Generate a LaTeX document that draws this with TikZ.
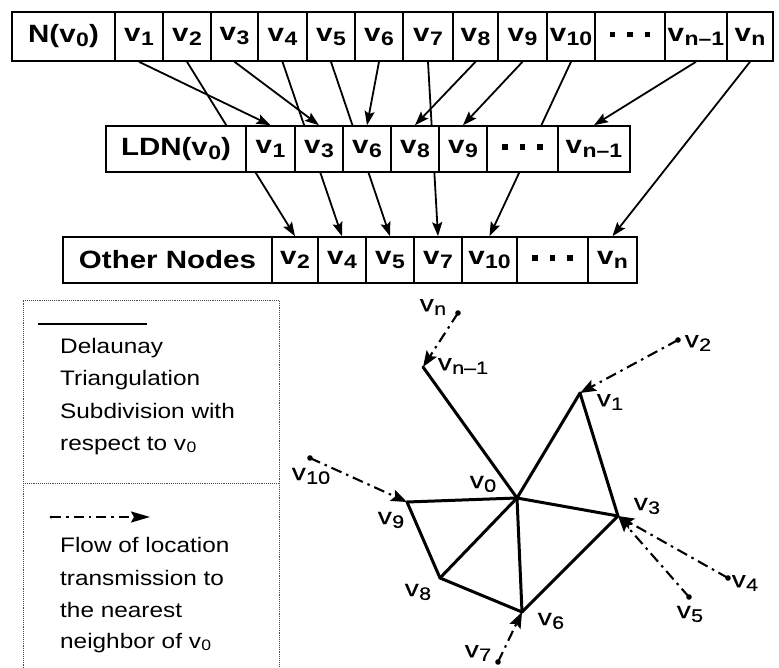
\documentclass[tikz,border=0pt]{standalone}
\usepackage{fontspec}
\setmainfont{Liberation Sans}
\newfontfamily\tabf[FakeStretch=1.18]{Liberation Sans}
\newfontfamily\grf[FakeStretch=1.2,FakeBold=0.6]{Liberation Sans}
\newfontfamily\legf[FakeStretch=1.16]{Liberation Sans}
\usetikzlibrary{arrows.meta}
\newcommand\nd[1]{v\kern0.02em\raisebox{-0.16em}{\scalebox{0.78}{#1}}}
\newcommand\ndl[1]{v\kern0.02em\raisebox{-0.14em}{\scalebox{0.72}{#1}}}
\newcommand\sqdots{\raisebox{4pt}{\rule{5.5pt}{5.5pt}\hspace{12pt}\rule{5.5pt}{5.5pt}\hspace{12pt}\rule{5.5pt}{5.5pt}}}
\begin{document}
\begin{tikzpicture}[x=1pt,y=-1pt,
  cell/.style={draw, line width=1.6pt, fill=white, inner sep=0pt,
    font=\tabf\bfseries\fontsize{25}{30}\selectfont},
  rowa/.style={cell, minimum height=49pt},
  rowb/.style={cell, minimum height=46pt},
  conn/.style={line width=1.8pt, -{Stealth[length=14pt,width=10pt,inset=2.5pt]}},
  edge/.style={line width=3pt, line cap=round, line join=round},
  flow/.style={line width=2.1pt, dash pattern=on 11pt off 5pt on 2.5pt off 5pt,
    -{Stealth[length=16pt,width=12pt,inset=3pt]}},
  glab/.style={inner sep=0pt, font=\grf\fontsize{23}{27}\selectfont},
  legtxt/.style={anchor=base west, inner sep=0pt, font=\legf\fontsize{21}{25}\selectfont},
  legbox/.style={line width=0.9pt, densely dotted, black!70}
]
\useasboundingbox (0,0) rectangle (779,668);

% ---- top row ----
\node[rowa, minimum width=103pt] (t0) at (63.5,36.5) {N(\nd{0})};
\node[rowa, minimum width=48pt] (t1) at (139,36.5) {\nd{1}};
\node[rowa, minimum width=48pt] (t2) at (187,36.5) {\nd{2}};
\node[rowa, minimum width=47pt] (t3) at (234.5,36.5) {\nd{3}};
\node[rowa, minimum width=49pt] (t4) at (282.5,36.5) {\nd{4}};
\node[rowa, minimum width=48pt] (t5) at (331,36.5) {\nd{5}};
\node[rowa, minimum width=48pt] (t6) at (379,36.5) {\nd{6}};
\node[rowa, minimum width=50pt] (t7) at (428,36.5) {\nd{7}};
\node[rowa, minimum width=45pt] (t8) at (475.5,36.5) {\nd{8}};
\node[rowa, minimum width=49pt] (t9) at (522.5,36.5) {\nd{9}};
\node[rowa, minimum width=48pt] (t10) at (571,36.5) {\nd{10}};
\node[rowa, minimum width=70pt] (td) at (630,36.5) {\sqdots};
\node[rowa, minimum width=62pt] (tn1) at (696,36.5) {\nd{n\textendash1}};
\node[rowa, minimum width=46pt] (tn) at (750,36.5) {\nd{n}};

% ---- bottom row ----
\node[rowb, minimum width=209pt] (b0) at (167.5,260) {Other Nodes};
\node[rowb, minimum width=46pt] (b2) at (295,260) {\nd{2}};
\node[rowb, minimum width=48pt] (b4) at (342,260) {\nd{4}};
\node[rowb, minimum width=48pt] (b5) at (390,260) {\nd{5}};
\node[rowb, minimum width=48pt] (b7) at (438,260) {\nd{7}};
\node[rowb, minimum width=55pt] (b10) at (489.5,260) {\nd{10}};
\node[rowb, minimum width=71pt] (bd) at (552.5,260) {\sqdots};
\node[rowb, minimum width=49pt] (bn) at (612.5,260) {\nd{n}};

% ---- connectors to other nodes (behind middle row) ----
\draw[conn] (t2.south) -- (b2.north);
\draw[conn] (t4.south) -- (b4.north);
\draw[conn] (t5.south) -- (b5.north);
\draw[conn] (t7.south) -- (b7.north);
\draw[conn] (t10.south) -- (b10.north);
\draw[conn] (tn.south) -- (bn.north);

% ---- middle row ----
\node[rowb, minimum width=140pt] (m0) at (176,149) {LDN(\nd{0})};
\node[rowb, minimum width=49pt] (m1) at (270.5,149) {\nd{1}};
\node[rowb, minimum width=48pt] (m3) at (319,149) {\nd{3}};
\node[rowb, minimum width=48pt] (m6) at (367,149) {\nd{6}};
\node[rowb, minimum width=48pt] (m8) at (415,149) {\nd{8}};
\node[rowb, minimum width=48pt] (m9) at (463,149) {\nd{9}};
\node[rowb, minimum width=71pt] (md) at (522.5,149) {\sqdots};
\node[rowb, minimum width=72pt] (mn1) at (594,149) {\nd{n\textendash1}};

\draw[conn] (t1.south) -- (m1.north);
\draw[conn] (t3.south) -- (m3.north);
\draw[conn] (t6.south) -- (m6.north);
\draw[conn] (t8.south) -- (m8.north);
\draw[conn] (t9.south) -- (m9.north);
\draw[conn] (tn1.south) -- (mn1.north);

% ---- legend ----
\draw[legbox] (23,672) -- (23,300) -- (279,300) -- (279,672);
\draw[legbox] (23,483) -- (279,483);
\coordinate (la) at (38,324);
\coordinate (lb) at (147,324);
\draw[line width=2.8pt] (la) -- (lb);
\node[legtxt] (lt1) at (60,353) {Delaunay};
\node[legtxt] (lt2) at (60,385) {Triangulation};
\node[legtxt] (lt3) at (60,418) {Subdivision with};
\node[legtxt] (lt4) at (60,450) {respect to \ndl{0}};
\coordinate (lc) at (51,517);
\coordinate (ld) at (150,517);
\fill (lc) circle (1.5pt);
\draw[line width=2.1pt, dash pattern=on 10pt off 5pt on 2.5pt off 5pt,
  -{Stealth[length=19pt,width=11pt,inset=3pt]}] (lc) -- (ld);
\node[legtxt] (lt5) at (60,552) {Flow of location};
\node[legtxt] (lt6) at (60,585) {transmission to};
\node[legtxt] (lt7) at (60,617) {the nearest};
\node[legtxt] (lt8) at (60,648) {neighbor of \ndl{0}};

% ---- graph ----
\coordinate (g0) at (517,498);
\coordinate (gn) at (458,313);
\coordinate (gn1) at (423,367);
\coordinate (g2) at (678,340);
\coordinate (g1) at (580,393);
\coordinate (g10) at (310,458);
\coordinate (g9) at (407,502);
\coordinate (g3) at (618,516);
\coordinate (g8) at (440,578);
\coordinate (g6) at (522,612);
\coordinate (g7) at (498,662);
\coordinate (g4) at (728,578);
\coordinate (g5) at (689,597);

\draw[edge] (gn1) -- (g0);
\draw[edge] (g1) -- (g0);
\draw[edge] (g1) -- (g3);
\draw[edge] (g9) -- (g0);
\draw[edge] (g0) -- (g3);
\draw[edge] (g9) -- (g8);
\draw[edge] (g8) -- (g0);
\draw[edge] (g0) -- (g6);
\draw[edge] (g8) -- (g6);
\draw[edge] (g6) -- (g3);

\draw[flow] (gn) -- (gn1);
\draw[flow] (g2) -- (g1);
\draw[flow] (g10) -- (g9);
\draw[flow] (g4) -- (g3);
\draw[flow] (g5) -- (g3);
\draw[flow] (g7) -- (g6);
\foreach \p in {gn,g2,g10,g4,g5,g7} \fill (\p) circle (2.8pt);

\node[glab] (ln) at (433,307) {\nd{n}};
\node[glab] (ln1) at (463,366) {\nd{n\textendash1}};
\node[glab] (l2) at (698,343) {\nd{2}};
\node[glab] (l1) at (610,402) {\nd{1}};
\node[glab] (l10) at (311,476) {\nd{10}};
\node[glab] (l0) at (483,484) {\nd{0}};
\node[glab] (l9) at (391,520) {\nd{9}};
\node[glab] (l3) at (647,506) {\nd{3}};
\node[glab] (l8) at (418,592) {\nd{8}};
\node[glab] (l6) at (551,621) {\nd{6}};
\node[glab] (l7) at (478,653) {\nd{7}};
\node[glab] (l4) at (745,583) {\nd{4}};
\node[glab] (l5) at (690,614) {\nd{5}};
\end{tikzpicture}
\end{document}
